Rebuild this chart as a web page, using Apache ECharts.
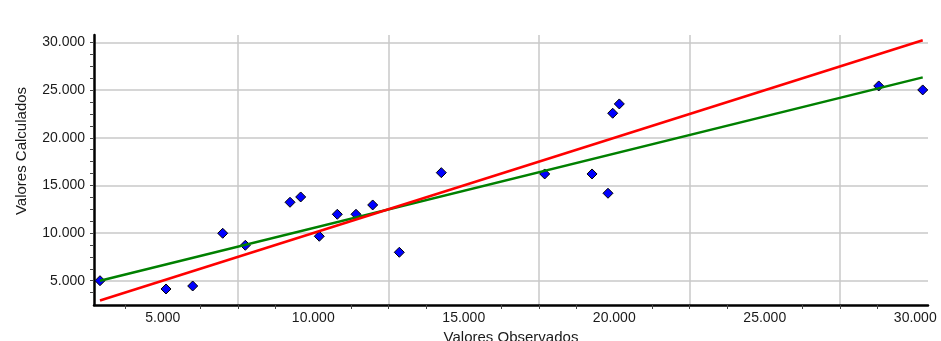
<!DOCTYPE html>
<html>
<head>
<meta charset="utf-8">
<script src="https://cdn.jsdelivr.net/npm/echarts@6/dist/echarts.min.js"></script>
<style>
  html, body { margin: 0; padding: 0; background: #ffffff; }
  #chart { width: 941px; height: 341px; }
</style>
</head>
<body>
<div id="chart"></div>
<script>
const observados = [2915, 5108, 5995, 6992, 7743, 9228, 9583, 10201, 10799, 11420, 11975, 12859, 14254, 17689, 19261, 19792, 19948, 20168, 28786, 30248];
const calculados = [5000, 4128, 4443, 9979, 8718, 13235, 13792, 9664, 11975, 11975, 12952, 7983, 16345, 16208, 16208, 14181, 22584, 23561, 25452, 25032];

// Identity line (red) and fitted line (green) end points
const lineaIdeal = [[2915, 2915], [30248, 30248]];
const lineaAjuste = [[2915, 5000], [30248, 26350]];

// Axis ranges and tick values
const xRange = [2716, 30423];
const yRange = [2447, 30800];
const xLabelValues = [5000, 10000, 15000, 20000, 25000, 30000];
const xTickValues = [3750, 6250, 7500, 8750, 11250, 12500, 13750, 16250, 17500, 18750, 21250, 22500, 23750, 26250, 27500, 28750];
const xGridValues = [7500, 12500, 17500, 22500, 27500];
const yLabelValues = [5000, 10000, 15000, 20000, 25000, 30000];
const yTickValues = [3750, 5000, 6250, 7500, 8750, 10000, 11250, 12500, 13750, 15000, 16250, 17500, 18750, 20000, 21250, 22500, 23750, 25000, 26250, 27500, 28750, 30000];
const yGridValues = [5000, 10000, 15000, 20000, 25000, 30000];

const fmt = v => (v / 1000).toFixed(3);
const FONT = 'Liberation Sans, Arial, sans-serif';

const chart = echarts.init(document.getElementById('chart'), null, { renderer: 'canvas' });

const scatterData = observados.map((x, i) => [x, calculados[i]]);

chart.setOption({
  animation: false,
  backgroundColor: '#ffffff',
  grid: { left: 94, right: 13, top: 35, bottom: 36, containLabel: false, outerBoundsMode: 'none' },
  xAxis: [
    {
      type: 'value', min: xRange[0], max: xRange[1],
      name: 'Valores Observados', nameLocation: 'middle', nameGap: 25,
      nameTextStyle: { color: '#1a1a1a', fontSize: 15, fontFamily: FONT },
      axisLine: { show: true, onZero: false, lineStyle: { color: '#000000', width: 2.5 } },
      axisTick: { show: true, length: 4, customValues: xTickValues, lineStyle: { color: '#444444', width: 1 } },
      axisLabel: { show: true, margin: 6, customValues: xLabelValues, formatter: fmt, color: '#1a1a1a', fontSize: 14, fontFamily: FONT },
      splitLine: { show: false }
    },
    {
      type: 'value', min: xRange[0], max: xRange[1], position: 'bottom',
      axisLine: { show: false },
      axisTick: { show: false, customValues: xGridValues },
      axisLabel: { show: false },
      splitLine: { show: true, lineStyle: { color: '#c8c8c8', width: 1.5 } }
    }
  ],
  yAxis: [
    {
      type: 'value', min: yRange[0], max: yRange[1],
      name: 'Valores Calculados', nameLocation: 'middle', nameGap: 65,
      nameTextStyle: { color: '#1a1a1a', fontSize: 15, fontFamily: FONT, padding: [0, 0, 0, 38] },
      axisLine: { show: true, onZero: false, lineStyle: { color: '#000000', width: 2.5 } },
      axisTick: { show: true, length: 4, customValues: yTickValues, lineStyle: { color: '#444444', width: 1 } },
      axisLabel: { show: true, margin: 9, customValues: yLabelValues, formatter: fmt, color: '#1a1a1a', fontSize: 14, fontFamily: FONT },
      splitLine: { show: false }
    },
    {
      type: 'value', min: yRange[0], max: yRange[1], position: 'left',
      axisLine: { show: false },
      axisTick: { show: false, customValues: yGridValues },
      axisLabel: { show: false },
      splitLine: { show: true, lineStyle: { color: '#c8c8c8', width: 1.5 } }
    }
  ],
  series: [
    {
      name: 'Puntos', type: 'scatter', xAxisIndex: 0, yAxisIndex: 0,
      symbol: 'diamond', symbolSize: 10,
      itemStyle: { color: '#0000ff', borderColor: '#000000', borderWidth: 1, opacity: 1 },
      data: scatterData, z: 3
    },
    {
      name: 'Ajuste', type: 'line', xAxisIndex: 0, yAxisIndex: 0,
      showSymbol: false, symbol: 'none',
      lineStyle: { color: '#008000', width: 2.5 },
      data: lineaAjuste, z: 4
    },
    {
      name: 'Ideal', type: 'line', xAxisIndex: 0, yAxisIndex: 0,
      showSymbol: false, symbol: 'none',
      lineStyle: { color: '#ff0000', width: 2.5 },
      data: lineaIdeal, z: 5
    }
  ]
});
</script>
</body>
</html>
